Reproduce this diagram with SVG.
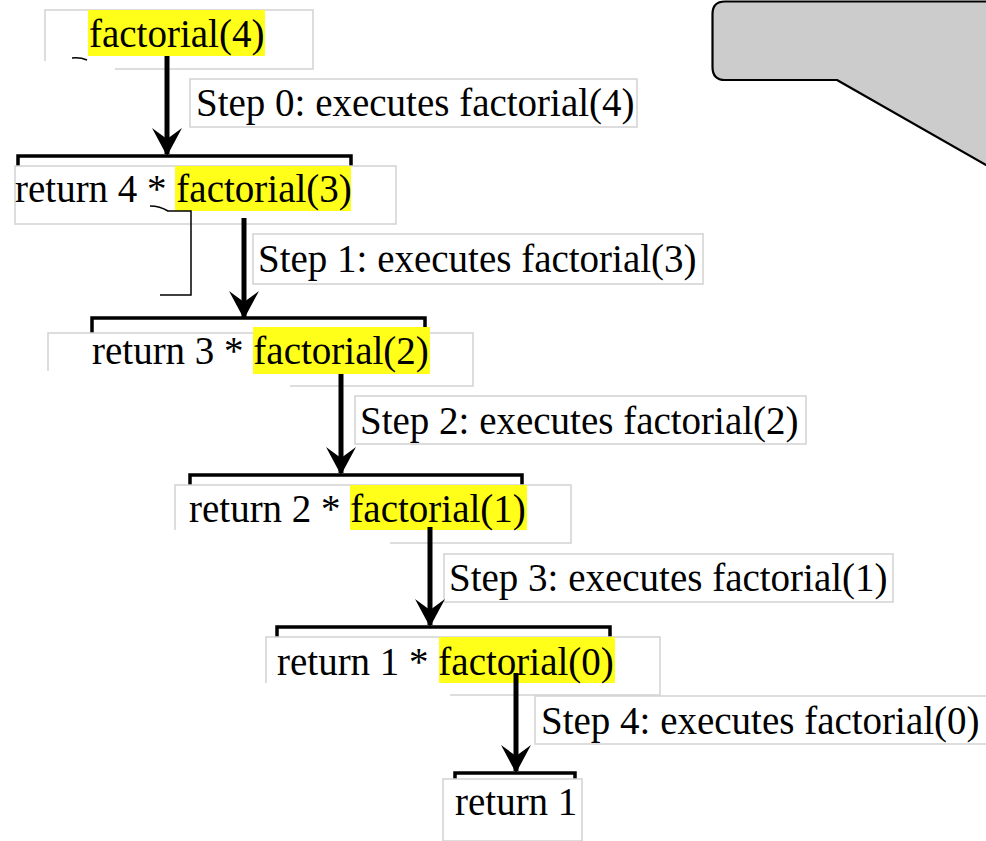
<svg xmlns="http://www.w3.org/2000/svg" width="986" height="841" viewBox="0 0 986 841">
  <style>
    .box { fill: #ffffff; stroke: #d2d2d2; stroke-width: 1.5; }
    .hl { fill: #ffff1a; }
    .t { font-family: "Liberation Serif", "Times New Roman", serif; font-size: 39px; fill: #000000; }
    .shaft { stroke: #000000; stroke-width: 5; fill: none; }
    .bracket { stroke: #000000; stroke-width: 3.5; fill: none; stroke-linecap: square; }
    .thin { stroke: #000000; stroke-width: 1.5; fill: none; }
  </style>
  <defs>
    <!-- swept-back arrowhead, drawn along +x so orient="auto" turns it along the line -->
    <marker id="head" viewBox="0 0 28 30" refX="26" refY="15" markerWidth="28" markerHeight="30" markerUnits="userSpaceOnUse" orient="auto">
      <path d="M28 15 L0 0 L11 15 L0 30 Z" fill="#000000"/>
    </marker>
  </defs>
  <rect width="986" height="841" fill="#ffffff"/>

  <!-- callout balloon in the top-right corner -->
  <g id="callout">
    <path d="M1000 1.5 H725 Q712.5 1.5 712.5 14 V67 Q712.5 80 725 80 H837 L1000 173 Z" fill="#cccccc" stroke="#000000" stroke-width="2.2" stroke-linejoin="round"/>
  </g>

  <!-- call frames -->
  <g id="call4">
    <rect class="box" x="45" y="10" width="268" height="59"/>
    <rect x="40" y="61" width="75" height="12" fill="#ffffff"/>
    <rect class="hl" x="88" y="10" width="177" height="46"/>
    <text class="t" x="89" y="47">factorial(4)</text>
    <path d="M72 58 Q80 57 87 60" class="thin" stroke-width="2"/>
  </g>

  <g id="call3">
    <path class="bracket" d="M18 171 V156 H351 V171"/>
    <rect class="box" x="15" y="166" width="381" height="58"/>
    <rect class="hl" x="175" y="166" width="176" height="45"/>
    <text class="t" x="15" y="202">return 4 * factorial(3)</text>
    <path d="M150 206 Q160 206 168 211 L191 211 V295 H160" class="thin"/>
  </g>

  <g id="call2">
    <path class="bracket" d="M92 333 V318 H425 V333"/>
    <rect class="box" x="48" y="333" width="425" height="53"/>
    <rect x="44" y="371" width="246" height="18" fill="#ffffff"/>
    <rect class="hl" x="253" y="327" width="177" height="47"/>
    <text class="t" x="92" y="364">return 3 * factorial(2)</text>
  </g>

  <g id="call1">
    <path class="bracket" d="M190 488 V475 H522 V488"/>
    <rect class="box" x="175" y="485" width="396" height="58"/>
    <rect x="140" y="530" width="250" height="16" fill="#ffffff"/>
    <rect class="hl" x="350" y="485" width="177" height="45"/>
    <text class="t" x="189" y="522">return 2 * factorial(1)</text>
  </g>

  <g id="call0">
    <path class="bracket" d="M277 641 V627 H610 V641"/>
    <rect class="box" x="266" y="637" width="394" height="58"/>
    <rect x="230" y="683" width="220" height="16" fill="#ffffff"/>
    <rect class="hl" x="439" y="637" width="176" height="46"/>
    <text class="t" x="277" y="675">return 1 * factorial(0)</text>
  </g>

  <g id="base">
    <path class="bracket" d="M455 789 V773 H575 V789"/>
    <rect class="box" x="443" y="779" width="139" height="62"/>
    <text class="t" x="455" y="815">return 1</text>
  </g>

  <!-- step labels -->
  <g id="step0">
    <rect class="box" x="190" y="79" width="447" height="48"/>
    <text class="t" x="196" y="116">Step 0: executes factorial(4)</text>
  </g>
  <g id="step1">
    <rect class="box" x="253" y="234" width="450" height="50"/>
    <text class="t" x="258" y="272">Step 1: executes factorial(3)</text>
  </g>
  <g id="step2">
    <rect class="box" x="355" y="396" width="451" height="48"/>
    <text class="t" x="360" y="434">Step 2: executes factorial(2)</text>
  </g>
  <g id="step3">
    <rect class="box" x="444" y="554" width="449" height="48"/>
    <text class="t" x="449" y="591">Step 3: executes factorial(1)</text>
  </g>
  <g id="step4">
    <rect class="box" x="535" y="696" width="460" height="48"/>
    <text class="t" x="541" y="734">Step 4: executes factorial(0)</text>
  </g>

  <!-- call arrows -->
  <g id="connectors">
    <line class="shaft" x1="167" y1="56" x2="167" y2="154" marker-end="url(#head)"/>
    <line class="shaft" x1="244" y1="218" x2="244" y2="317" marker-end="url(#head)"/>
    <line class="shaft" x1="341" y1="374" x2="341" y2="473" marker-end="url(#head)"/>
    <line class="shaft" x1="430" y1="527" x2="430" y2="625" marker-end="url(#head)"/>
    <line class="shaft" x1="516" y1="673" x2="516" y2="771" marker-end="url(#head)"/>
  </g>
</svg>
